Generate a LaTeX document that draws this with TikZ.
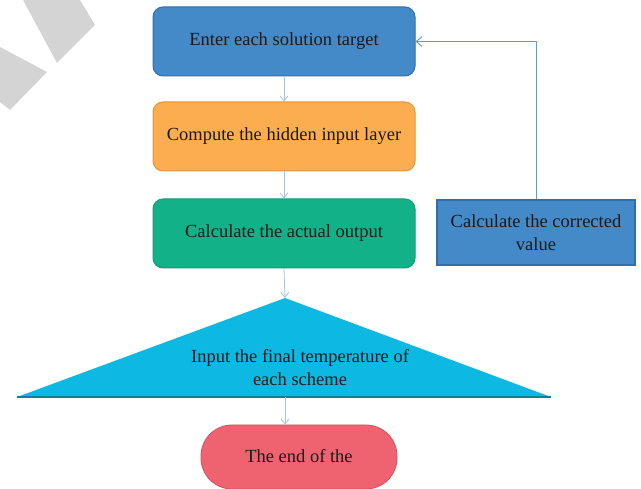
\documentclass[tikz,border=0pt]{standalone}
\usepackage{fontspec}
\setmainfont{Liberation Serif}
\usetikzlibrary{arrows.meta}
\definecolor{cBlue}{HTML}{4489C8}
\definecolor{cBlueD}{HTML}{2E6FAE}
\definecolor{cOrange}{HTML}{FBAD4F}
\definecolor{cOrangeD}{HTML}{E3963A}
\definecolor{cGreen}{HTML}{13B187}
\definecolor{cGreenD}{HTML}{0E9E78}
\definecolor{cCyan}{HTML}{0DB9E3}
\definecolor{cCyanD}{HTML}{0C7FA0}
\definecolor{cRed}{HTML}{EF6370}
\definecolor{cRedD}{HTML}{D65060}
\definecolor{cArrow}{HTML}{9DC3E6}
\definecolor{cFeed}{HTML}{5B9BD5}
\definecolor{cGray}{HTML}{D4D4D4}
\definecolor{cText}{HTML}{1A1A1A}
\tikzset{
  every node/.style={font=\fontsize{18.5}{23}\selectfont, text=cText},
  rbox/.style={rectangle, rounded corners=10pt, line width=1pt, minimum width=262pt, minimum height=69pt, align=center, inner sep=0pt},
  flowarrow/.style={draw=cArrow, line width=0.8pt, -{Straight Barb[length=5pt,width=8pt]}},
  feedarrow/.style={draw=cFeed, line width=0.9pt, -{Straight Barb[length=6pt,width=10pt]}}
}
\begin{document}
\begin{tikzpicture}[x=1pt,y=-1pt]
\useasboundingbox (0,0) rectangle (641,489);
% watermark shapes
\fill[cGray] (23,0) -- (80,0) -- (95,25) -- (57,63) -- cycle;
\fill[cGray] (0,47) -- (47,72) -- (10,110) -- (0,102) -- cycle;
% boxes
\node[rbox, fill=cBlue, draw=cBlueD] (b1) at (284,41.5) {Enter each solution target};
\node[rbox, fill=cOrange, draw=cOrangeD] (b2) at (284,136.5) {Compute the hidden input layer};
\node[rbox, fill=cGreen, draw=cGreenD] (b3) at (284,233.5) {Calculate the actual output};
% triangle
\coordinate (tritop) at (285,298);
\coordinate (tribot) at (285,397);
\fill[cCyan] (tritop) -- (551,397) -- (17,397) -- cycle;
\draw[cCyanD, line width=1.2pt] (17,397) -- (551,397);
\node[align=center] (tritext) at (300,368) {Input the final temperature of\\each scheme};
% terminal
\node[rectangle, rounded corners=31pt, fill=cRed, draw=cRedD, line width=0.8pt, minimum width=196pt, minimum height=64pt, inner sep=0pt] (end) at (299,457) {};
\node (endtext) at (299,456) {The end of the};
% right box
\node[rectangle, fill=cBlue, draw=cBlueD, line width=1.4pt, minimum width=198pt, minimum height=65pt, align=center, inner sep=0pt] (rb) at (536,232.5) {Calculate the corrected\\value};
% connectors
\draw[flowarrow] (b1.south) -- (b2.north);
\draw[flowarrow] (b2.south) -- (b3.north);
\draw[flowarrow] (b3.south) -- (tritop);
\draw[flowarrow] (tribot) -- (tribot |- end.north);
\draw[feedarrow] (rb.north) |- (b1.east);
\end{tikzpicture}
\end{document}
